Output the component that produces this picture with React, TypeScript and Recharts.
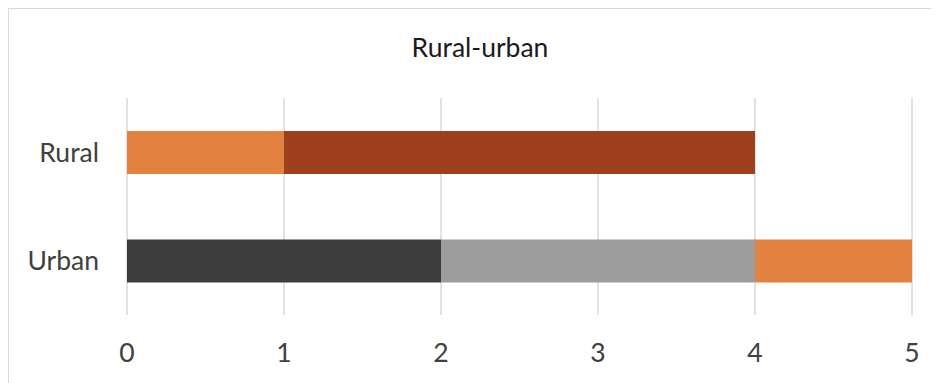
import { Bar, BarChart, CartesianGrid, XAxis, YAxis } from "recharts";

const categories = ["Rural", "Urban"];
const darkGray = [0, 2];
const lightGray = [0, 2];
const orange = [1, 1];
const brown = [3, 0];
const xTicks = [0, 1, 2, 3, 4, 5];

const data = categories.map((name, i) => ({
    name,
    darkGray: darkGray[i],
    lightGray: lightGray[i],
    orange: orange[i],
    brown: brown[i],
}));

const font = "Lato, 'Open Sans', sans-serif";
const textSize = 26.5;

export default function App() {
    return (
        <div style={{ width: 931, height: 375, overflow: "hidden" }}>
            <div
                style={{
                    position: "relative",
                    width: 960,
                    height: 400,
                    borderTop: "1px solid #d9d9d9",
                    borderLeft: "1px solid #d9d9d9",
                    boxSizing: "border-box",
                    fontFamily: font,
                }}
            >
                <div
                    style={{
                        position: "absolute",
                        left: 0,
                        top: 25,
                        width: 942,
                        textAlign: "center",
                        fontSize: textSize,
                        lineHeight: "26px",
                        color: "#1a1a1a",
                    }}
                >
                    Rural-urban
                </div>
                <BarChart
                    width={930}
                    height={374}
                    data={data}
                    layout="vertical"
                    margin={{ top: 89, right: 27, bottom: 0, left: 0 }}
                    barSize={43}
                >
                    <CartesianGrid horizontal={false} stroke="#d9d9d9" strokeWidth={1.5} />
                    <XAxis
                        type="number"
                        domain={[0, 5]}
                        ticks={xTicks}
                        axisLine={false}
                        tickLine={false}
                        tickSize={0}
                        tickMargin={28}
                        height={68}
                        tick={{ fill: "#404040", fontSize: textSize, fontFamily: font }}
                    />
                    <YAxis
                        type="category"
                        dataKey="name"
                        width={118}
                        axisLine={false}
                        tickLine={false}
                        tickSize={0}
                        tickMargin={28}
                        tick={{ fill: "#404040", fontSize: textSize, fontFamily: font }}
                    />
                    <Bar dataKey="darkGray" stackId="a" fill="#3d3d3d" isAnimationActive={false} />
                    <Bar dataKey="lightGray" stackId="a" fill="#9d9d9d" isAnimationActive={false} />
                    <Bar dataKey="orange" stackId="a" fill="#e38141" isAnimationActive={false} />
                    <Bar dataKey="brown" stackId="a" fill="#9e3f1d" isAnimationActive={false} />
                </BarChart>
            </div>
        </div>
    );
}
